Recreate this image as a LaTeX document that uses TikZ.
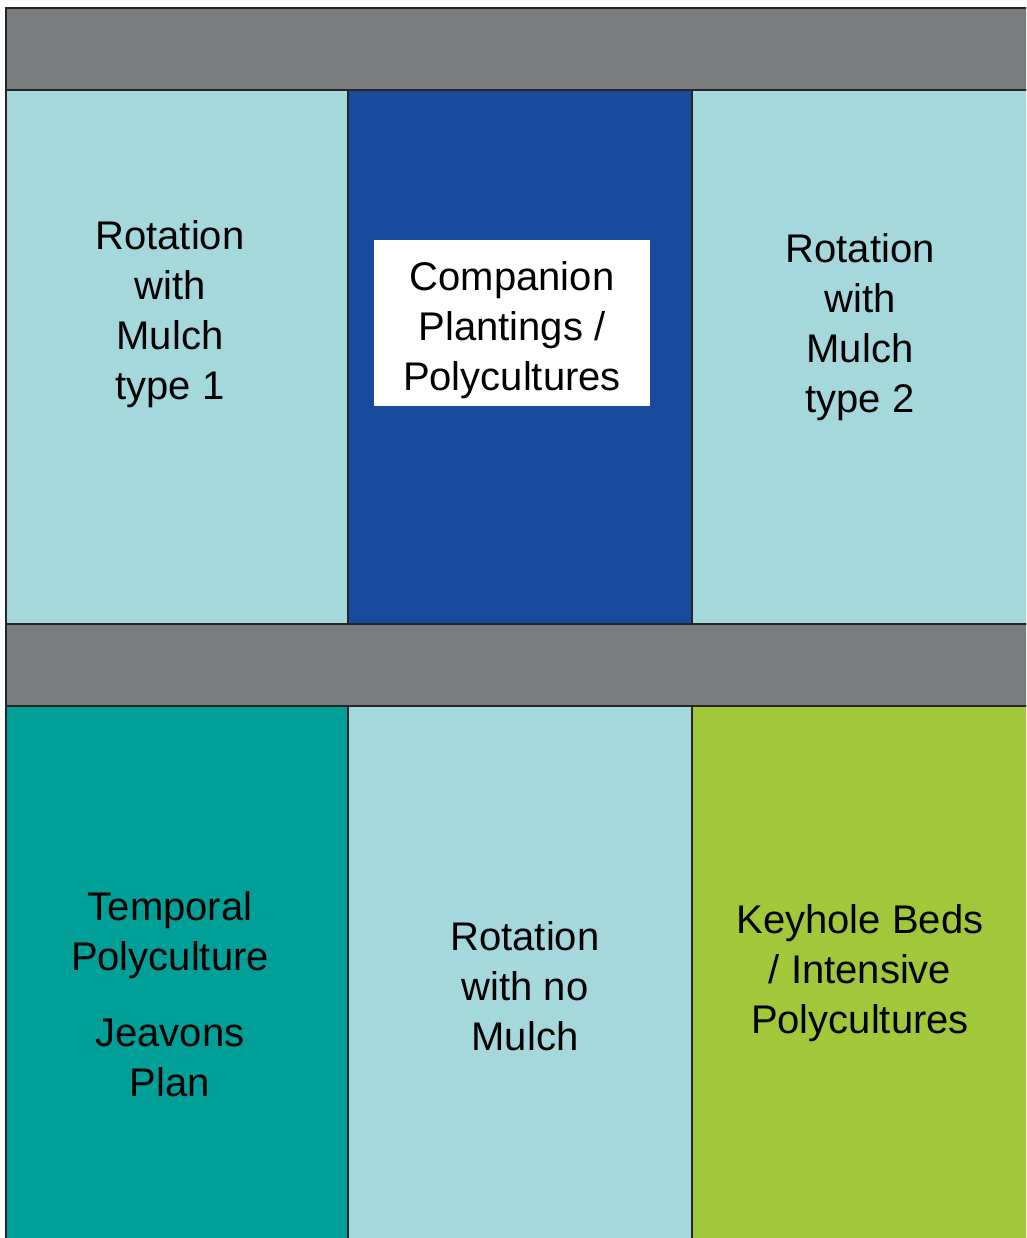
\documentclass[tikz,border=0pt]{standalone}
\usepackage{fontspec}
\setmainfont{Liberation Sans}
\definecolor{bandgray}{HTML}{7A7D80}
\definecolor{lightblue}{HTML}{A4D8DC}
\definecolor{darkblue}{HTML}{1A4A9C}
\definecolor{tealc}{HTML}{00A098}
\definecolor{greenc}{HTML}{A0C83A}
\tikzset{
  cell/.style={draw=black!85, line width=2pt},
  lbl/.style={align=center, font=\fontsize{40}{50}\selectfont, text=black, inner sep=0pt}
}
\begin{document}
\begin{tikzpicture}[x=1pt,y=-1pt]
\useasboundingbox (0,0) rectangle (1026,1238);
\fill[white] (0,0) rectangle (1026,1238);
\begin{scope}
\clip (0,0) rectangle (1026,1238);
% bands
\filldraw[cell, fill=bandgray] (6,8) rectangle (1040,90);
\filldraw[cell, fill=bandgray] (6,624) rectangle (1040,706);
% top row
\filldraw[cell, fill=lightblue] (6,90) rectangle (348,624);
\filldraw[cell, fill=darkblue] (348,90) rectangle (692,624);
\filldraw[cell, fill=lightblue] (692,90) rectangle (1040,624);
% bottom row
\filldraw[cell, fill=tealc] (6,706) rectangle (348,1250);
\filldraw[cell, fill=lightblue] (348,706) rectangle (692,1250);
\filldraw[cell, fill=greenc] (692,706) rectangle (1040,1250);
\end{scope}
% white box
\fill[white] (374,240) rectangle (650,406);
% labels
\node[lbl] (r1) at (170,314) {Rotation\\with\\Mulch\\type 1};
\node[lbl] (cp) at (512,330) {Companion\\Plantings /\\Polycultures};
\node[lbl] (r2) at (860,327) {Rotation\\with\\Mulch\\type 2};
\node[lbl] (tp) at (170,935) {Temporal\\Polyculture};
\node[lbl] (jp) at (170,1058) {Jeavons\\Plan};
\node[lbl] (rn) at (525,986) {Rotation\\with no\\Mulch};
\node[lbl] (kb) at (860,973) {Keyhole Beds\\/ Intensive\\Polycultures};
\end{tikzpicture}
\end{document}
